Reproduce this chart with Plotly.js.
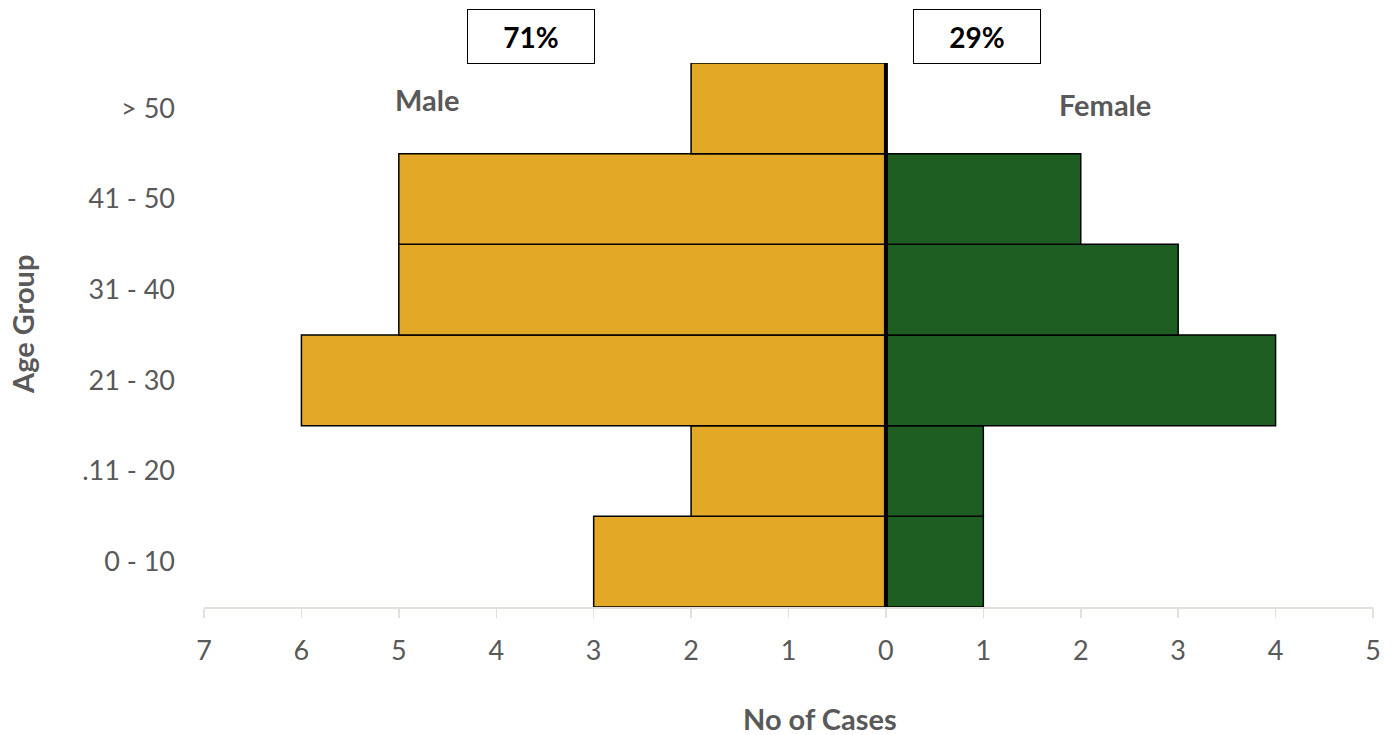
<!DOCTYPE html>
<html>
<head>
<meta charset="utf-8">
<script src="https://cdn.plot.ly/plotly-3.0.1.min.js"></script>
<style>html,body{margin:0;padding:0;background:#fff;}#chart{width:1395px;height:735px;}</style>
</head>
<body>
<div id="chart"></div>
<script>
const ageGroups = ["0 - 10", ".11 - 20", "21 - 30", "31 - 40", "41 - 50", "> 50"];
const maleCases = [3, 2, 6, 5, 5, 2];
const femaleCases = [1, 1, 4, 3, 2, 0];
const tickValues = [-7, -6, -5, -4, -3, -2, -1, 0, 1, 2, 3, 4, 5];
const tickLabels = ["7", "6", "5", "4", "3", "2", "1", "0", "1", "2", "3", "4", "5"];
const malePct = "71%";
const femalePct = "29%";

const font = "Lato, 'Open Sans', sans-serif";
const PW = 1169, PH = 544, L = 204, T = 63;
const px = x => (x - L) / PW;
const py = y => 1 - (y - T) / PH;
const traces = [
  {type: 'bar', orientation: 'h', name: 'Male', y: ageGroups, x: maleCases.map(v => -v),
   marker: {color: '#E3A926', line: {color: '#000', width: 1.5}}, hoverinfo: 'skip'},
  {type: 'bar', orientation: 'h', name: 'Female', y: ageGroups, x: femaleCases,
   marker: {color: '#1E5E22', line: {color: '#000', width: 1.5}}, hoverinfo: 'skip'}
];
const layout = {
  width: 1395, height: 735,
  margin: {l: 204, r: 22, t: 63, b: 128},
  paper_bgcolor: '#fff', plot_bgcolor: '#fff',
  barmode: 'relative', bargap: 0,
  showlegend: false,
  font: {family: font, color: '#595959'},
  xaxis: {
    range: [-7, 5], tickvals: tickValues, ticktext: tickLabels,
    showgrid: false, zeroline: false, showline: true, linecolor: '#E2E0D8', linewidth: 1.5,
    ticks: 'outside', ticklen: 9, tickcolor: '#E2E0D8', tickwidth: 1.5,
    tickfont: {size: 27, color: '#595959', family: font}, ticklabelstandoff: 10
  },
  yaxis: {
    type: 'category', range: [-0.5, 5.5], showgrid: false, zeroline: false, showline: false,
    ticks: '', tickfont: {size: 27, color: '#595959', family: font}, ticklabelstandoff: 28
  },
  shapes: [
    {type: 'line', xref: 'x', yref: 'paper', x0: 0, x1: 0, y0: 0, y1: 1, line: {color: '#000', width: 4}}
  ],
  annotations: [
    {xref: 'paper', yref: 'paper', x: px(531), y: py(37), xanchor: 'center', yanchor: 'middle',
     text: '<b>' + malePct + '</b>', showarrow: false, font: {size: 28, color: '#000', family: font},
     bordercolor: '#000', borderwidth: 1, bgcolor: '#fff', width: 124, height: 51},
    {xref: 'paper', yref: 'paper', x: px(977), y: py(37), xanchor: 'center', yanchor: 'middle',
     text: '<b>' + femalePct + '</b>', showarrow: false, font: {size: 28, color: '#000', family: font},
     bordercolor: '#000', borderwidth: 1, bgcolor: '#fff', width: 124, height: 51},
    {xref: 'paper', yref: 'paper', x: px(427), y: py(100), xanchor: 'center', yanchor: 'middle',
     text: '<b>Male</b>', showarrow: false, font: {size: 29, color: '#595959', family: font}},
    {xref: 'paper', yref: 'paper', x: px(1105), y: py(105), xanchor: 'center', yanchor: 'middle',
     text: '<b>Female</b>', showarrow: false, font: {size: 29, color: '#595959', family: font}},
    {xref: 'paper', yref: 'paper', x: px(820), y: py(718), xanchor: 'center', yanchor: 'middle',
     text: '<b>No of Cases</b>', showarrow: false, font: {size: 29, color: '#595959', family: font}},
    {xref: 'paper', yref: 'paper', x: px(22), y: py(325), xanchor: 'center', yanchor: 'middle', textangle: -90,
     text: '<b>Age Group</b>', showarrow: false, font: {size: 29, color: '#595959', family: font}}
  ]
};
Plotly.newPlot('chart', traces, layout, {displayModeBar: false, staticPlot: true});
</script>
</body>
</html>
